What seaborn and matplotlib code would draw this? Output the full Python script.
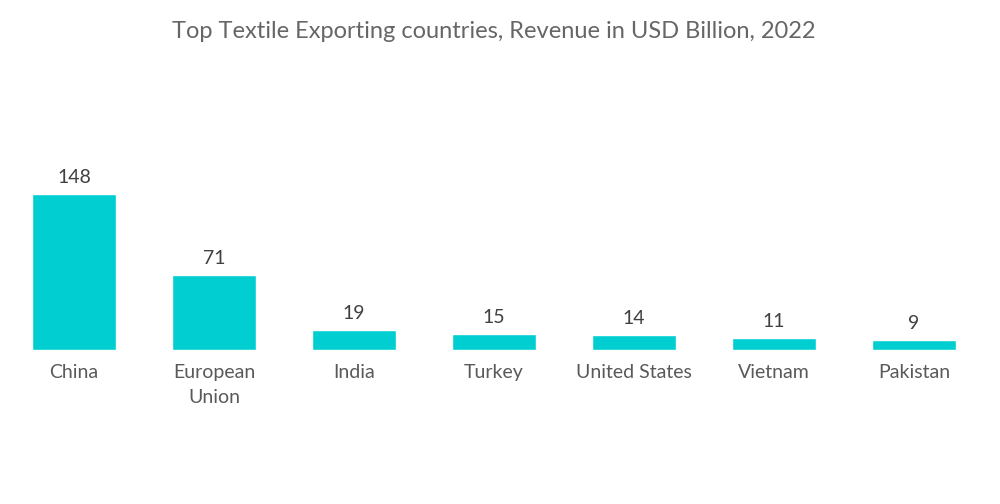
import matplotlib
matplotlib.use('Agg')
import matplotlib.pyplot as plt
import seaborn as sns
import pandas as pd

countries = ['China', 'European\nUnion', 'India', 'Turkey', 'United States', 'Vietnam', 'Pakistan']
revenue = [148, 71, 19, 15, 14, 11, 9]

sns.set_style('white')
plt.rcParams['font.family'] = ['Lato', 'DejaVu Sans']

df = pd.DataFrame({'country': countries, 'revenue': revenue})

fig = plt.figure(figsize=(10, 5.04), dpi=100)
ax = fig.add_axes([0.004, 0.3056, 0.98, 0.496])

sns.barplot(data=df, x='country', y='revenue', color='#00CED1', width=0.6,
            saturation=1, ax=ax)

for i, v in enumerate(revenue):
    ax.annotate(str(v), (i, v), xytext=(0, 6), textcoords='offset points',
                ha='center', va='bottom', fontsize=14, color='#404040')

ax.set_xlim(-0.5, len(countries) - 0.5)
ax.set_ylim(0, 237)
ax.set_xlabel('')
ax.set_ylabel('')
ax.set_yticks([])
ax.tick_params(axis='x', length=0, pad=10, labelsize=14, labelcolor='#595959')
for lbl in ax.get_xticklabels():
    lbl.set_linespacing(1.55)
for s in ax.spines.values():
    s.set_visible(False)

fig.text(0.494, 1 - 31 / 504, 'Top Textile Exporting countries, Revenue in USD Billion, 2022',
         ha='center', va='center', fontsize=17, color='#666666')

fig.savefig('out.png', dpi=100, facecolor='white')
plt.close(fig)
